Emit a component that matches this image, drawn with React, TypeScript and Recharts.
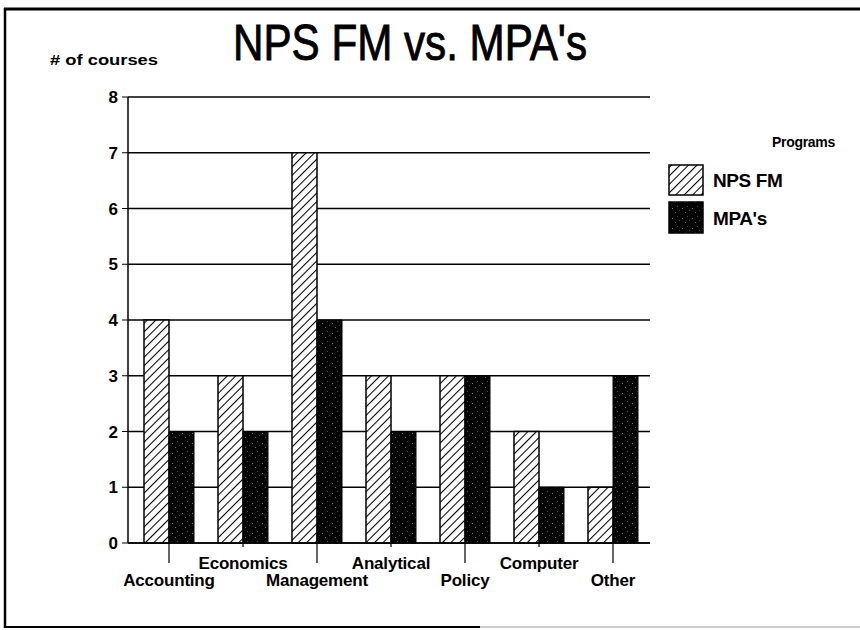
import { BarChart, Bar, XAxis, YAxis, CartesianGrid } from "recharts";

const categories = ["Accounting", "Economics", "Management", "Analytical", "Policy", "Computer", "Other"];
const npsFm = [4, 3, 7, 3, 3, 2, 1];
const mpas = [2, 2, 4, 2, 3, 1, 3];
const yTicks = [0, 1, 2, 3, 4, 5, 6, 7, 8];
const seriesNames = ["NPS FM", "MPA's"];

const FONT = '"Liberation Sans", Arial, Helvetica, sans-serif';

const data = categories.map((name, i) => ({ name, npsFm: npsFm[i], mpas: mpas[i] }));

// hatched and speckled-dark fills like the scanned original
function PatternDefs({ prefix }: { prefix: string }) {
    return (
        <defs>
            <pattern id={`${prefix}Hatch`} width="6" height="6" patternUnits="userSpaceOnUse" patternTransform="rotate(45)">
                <rect width="6" height="6" fill="#fff" />
                <line x1="0" y1="0" x2="0" y2="6" stroke="#000" strokeWidth="2.1" />
            </pattern>
            <pattern id={`${prefix}Dark`} width="10" height="10" patternUnits="userSpaceOnUse">
                <rect width="10" height="10" fill="#050505" />
                <rect x="2" y="3" width="1" height="1" fill="#777" />
                <rect x="7" y="1" width="1" height="1" fill="#4a4a4a" />
                <rect x="5" y="7" width="1" height="1" fill="#6a6a6a" />
                <rect x="9" y="5" width="1" height="1" fill="#3a3a3a" />
            </pattern>
        </defs>
    );
}

function CategoryTick(props: any) {
    const { x, y, payload, index } = props;
    const low = index % 2 === 0;
    return (
        <g>
            <line x1={x} y1={y} x2={x} y2={y + (low ? 20 : 4)} stroke="#000" strokeWidth={1.2} />
            <text
                x={x}
                y={y + (low ? 43 : 26)}
                textAnchor="middle"
                fontSize={17}
                fontWeight="bold"
                letterSpacing={-0.2}
                fill="#000"
                fontFamily={FONT}
            >
                {payload.value}
            </text>
        </g>
    );
}

function ProgramsLegend() {
    return (
        <svg width={180} height={115} style={{ position: "absolute", left: 660, top: 125 }}>
            <PatternDefs prefix="leg" />
            <text x={112} y={22} fontSize={14} fontWeight="bold" letterSpacing={-0.3} fontFamily={FONT}>
                Programs
            </text>
            <rect x={9} y={40} width={34} height={30} fill="url(#legHatch)" stroke="#000" strokeWidth={1.5} />
            <text x={53} y={62} fontSize={19} fontWeight="bold" letterSpacing={-0.4} fontFamily={FONT}>
                {seriesNames[0]}
            </text>
            <rect x={9} y={77} width={34} height={31} fill="url(#legDark)" stroke="#000" strokeWidth={1.5} />
            <text x={53} y={100} fontSize={19} fontWeight="bold" letterSpacing={-0.4} fontFamily={FONT}>
                {seriesNames[1]}
            </text>
        </svg>
    );
}

export default function App() {
    return (
        <div style={{ position: "absolute", left: 0, top: 0, width: 860, height: 630, background: "#fff", fontFamily: FONT }}>
            <BarChart
                width={860}
                height={630}
                data={data}
                margin={{ top: 97, right: 210, bottom: 27, left: 88 }}
                barGap={0}
                barSize={25}
            >
                <PatternDefs prefix="bar" />
                <CartesianGrid vertical={false} stroke="#000" strokeWidth={1.3} />
                <XAxis
                    dataKey="name"
                    height={60}
                    padding={{ left: 4, right: 0 }}
                    axisLine={{ stroke: "#000", strokeWidth: 1.5 }}
                    tickLine={false}
                    tickSize={0}
                    tickMargin={0}
                    interval={0}
                    tick={<CategoryTick />}
                />
                <YAxis
                    domain={[0, 8]}
                    ticks={yTicks}
                    width={40}
                    axisLine={{ stroke: "#000", strokeWidth: 1.5 }}
                    tickLine={{ stroke: "#000" }}
                    tickSize={6}
                    tickMargin={4}
                    tick={{ fontSize: 17, fontWeight: "bold", fill: "#000", fontFamily: FONT }}
                />
                <Bar dataKey="npsFm" name={seriesNames[0]} fill="url(#barHatch)" stroke="#000" strokeWidth={1.5} isAnimationActive={false} />
                <Bar dataKey="mpas" name={seriesNames[1]} fill="url(#barDark)" stroke="#000" strokeWidth={1} isAnimationActive={false} />
            </BarChart>

            <ProgramsLegend />

            {/* frame, title and axis caption */}
            <svg width={860} height={630} style={{ position: "absolute", left: 0, top: 0, pointerEvents: "none" }}>
                <line x1={4} y1={9} x2={860} y2={9} stroke="#000" strokeWidth={3} />
                <line x1={5} y1={8} x2={5} y2={628} stroke="#000" strokeWidth={2.5} />
                <line x1={4} y1={627} x2={480} y2={627} stroke="#000" strokeWidth={2} />
                <line x1={480} y1={627} x2={860} y2={627} stroke="#bbb" strokeWidth={1.5} />
                <text
                    x={233}
                    y={60}
                    fontSize={50}
                    textLength={354}
                    lengthAdjust="spacingAndGlyphs"
                    fontFamily={FONT}
                    fill="#000"
                    stroke="#000"
                    strokeWidth={0.9}
                >
                    NPS FM vs. MPA's
                </text>
                <text x={50} y={65} fontSize={14} fontWeight="bold" textLength={108} lengthAdjust="spacingAndGlyphs" fontFamily={FONT} fill="#000">
                    # of courses
                </text>
            </svg>
        </div>
    );
}
